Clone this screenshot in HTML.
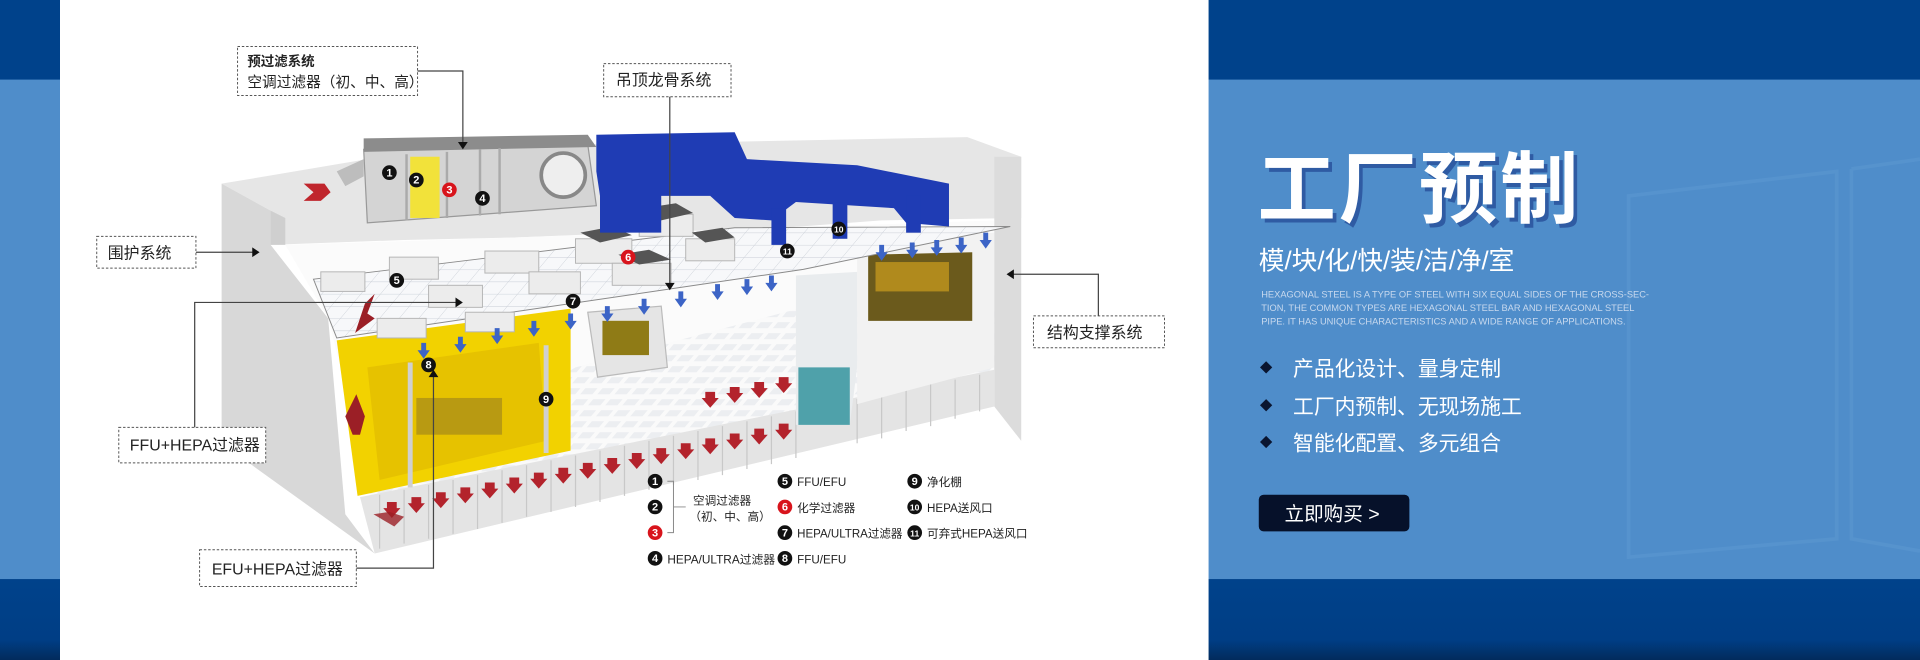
<!DOCTYPE html>
<html><head><meta charset="utf-8"><style>
html,body{margin:0;padding:0;width:1920px;height:660px;overflow:hidden;background:#00428b}
svg{display:block}
</style></head><body>
<svg width="1920" height="660" viewBox="0 0 1568 539" preserveAspectRatio="none" xmlns="http://www.w3.org/2000/svg" font-family="Liberation Sans, Noto Sans CJK SC, sans-serif">
<defs>
<linearGradient id="bot" x1="0" y1="0" x2="0" y2="1"><stop offset="0" stop-color="#00428b"/><stop offset="0.75" stop-color="#003e85"/><stop offset="1" stop-color="#022b5c"/></linearGradient>
<pattern id="grid" width="16" height="10" patternUnits="userSpaceOnUse" patternTransform="skewX(-40)"><rect width="16" height="10" fill="#f7f8fa"/><path d="M0 0H16M0 0V10" stroke="#c9ced6" stroke-width="0.8"/></pattern>
<pattern id="fgrid" width="14" height="9" patternUnits="userSpaceOnUse" patternTransform="skewX(-40)"><rect width="14" height="9" fill="#fafafa"/><rect x="2" y="2" width="10" height="5" fill="#eceef1"/></pattern>
<g id="ra"><path d="M-4 0h8v5h3l-7 8-7-8h3z" fill="#b3232c"/></g>
<g id="ba"><path d="M-2 0h4v6h3l-5 7-5-7h3z" fill="#3c64c6"/></g>
</defs>
<rect width="1568" height="539" fill="#00428b"/>
<rect y="65" width="1568" height="408" fill="#4f8dca"/>
<rect y="473" width="1568" height="66" fill="url(#bot)"/>
<g fill="none" stroke="#5c97d0" stroke-width="3" opacity="0.6">
<path d="M1330 160 L1500 140 L1500 440 L1330 455Z"/><path d="M1512 138 L1568 130 M1512 138 V440 L1568 450"/>
</g>
<rect x="49" y="0" width="938" height="539" fill="#ffffff"/>

<g>
<polygon points="181,150 300,130 480,118 790,112 834,128 834,178 720,180 640,186 520,190 420,194 330,196 221,200 221,172" fill="#e6e6e6"/>
<polygon points="181,150 221,172 221,200 268,260 282,420 306,452 181,362" fill="#d8d8d8"/>
<polygon points="221,172 233,178 233,200 221,200" fill="#cfcfcf"/>
<polygon points="233,200 420,194 640,186 812,180 812,300 306,410 268,260" fill="#fbfbfb"/>
<polygon points="300,400 470,300 660,250 812,250 812,302 306,410" fill="url(#fgrid)"/>
<polygon points="294,406 812,302 812,332 306,452" fill="#e4e4e4"/>
<g stroke="#c8c8c8" stroke-width="1">
<path d="M310 404v44M330 400v44M350 396v44M370 392v44M390 388v44M410 384v43M430 380v42M450 376v42M470 372v42M490 368v42M510 364v41M530 360v40M550 356v40M570 352v40M590 348v40M610 344v39M630 340v39M650 336v38M700 326v36M720 322v36M740 318v34M760 314v34M780 310v32M800 306v30"/>
</g>
<g>
<use href="#ra" x="320" y="410"/><use href="#ra" x="340" y="406"/><use href="#ra" x="360" y="402"/><use href="#ra" x="380" y="398"/><use href="#ra" x="400" y="394"/><use href="#ra" x="420" y="390"/><use href="#ra" x="440" y="386"/><use href="#ra" x="460" y="382"/><use href="#ra" x="480" y="378"/><use href="#ra" x="500" y="374"/><use href="#ra" x="520" y="370"/><use href="#ra" x="540" y="366"/><use href="#ra" x="560" y="362"/><use href="#ra" x="580" y="358"/><use href="#ra" x="600" y="354"/><use href="#ra" x="620" y="350"/><use href="#ra" x="640" y="346"/>
<use href="#ra" x="710" y="290"/><use href="#ra" x="725" y="288"/><use href="#ra" x="740" y="286"/><use href="#ra" x="755" y="284"/><use href="#ra" x="770" y="282"/><use href="#ra" x="785" y="280"/><use href="#ra" x="800" y="278"/>
<use href="#ra" x="580" y="320"/><use href="#ra" x="600" y="316"/><use href="#ra" x="620" y="312"/><use href="#ra" x="640" y="308"/>
</g>
<polygon points="650,225 700,222 700,300 694,347 650,347" fill="#e9ecee"/>
<polygon points="652,300 694,300 694,347 652,347" fill="#4fa1aa"/>
<polygon points="700,200 812,190 812,300 700,330" fill="#f2f2f2"/>
<polygon points="709,208 794,206 794,262 709,262" fill="#6b5a1c"/>
<rect x="715" y="214" width="60" height="24" fill="#b08a1d"/>
<polygon points="812,128 834,128 834,360 812,332" fill="#dcdcdc"/>
<!-- yellow room -->
<polygon points="275,278 466,252 466,368 292,405" fill="#f2d200"/>
<polygon points="300,300 440,280 446,360 310,392" fill="#e6c200"/>
<rect x="340" y="325" width="70" height="30" fill="#b89a12"/>
<path d="M335 296 V398 M446 282 V370" stroke="#d0d0d0" stroke-width="4"/>
<polygon points="480,255 540,250 545,300 488,308" fill="#e5e5e5" stroke="#bbb"/>
<rect x="492" y="262" width="38" height="28" fill="#8f7b16"/>
<polygon points="256,228 600,186 825,185 656,220 275,276" fill="url(#grid)" stroke="#8a8a8a" stroke-width="0.8"/>
<g fill="#ececec" stroke="#b5b5b5" stroke-width="0.8">
<rect x="262" y="222" width="36" height="16"/><rect x="318" y="210" width="40" height="18"/><rect x="396" y="205" width="44" height="18"/>
<rect x="350" y="233" width="44" height="18"/><rect x="432" y="222" width="42" height="18"/><rect x="308" y="260" width="40" height="16"/><rect x="380" y="255" width="40" height="16"/>
<rect x="470" y="195" width="46" height="20"/><rect x="522" y="175" width="44" height="18"/><rect x="560" y="195" width="40" height="18"/><rect x="500" y="215" width="48" height="18"/>
</g>
<g fill="#555">
<polygon points="474,190 500,185 516,192 490,198"/><polygon points="526,170 552,166 566,174 540,180"/><polygon points="565,190 590,186 600,194 576,198"/><polygon points="505,208 530,204 548,212 522,216"/>
</g>
<g>
<use href="#ba" x="346" y="280"/><use href="#ba" x="376" y="275"/><use href="#ba" x="406" y="268"/><use href="#ba" x="436" y="262"/><use href="#ba" x="466" y="256"/><use href="#ba" x="496" y="250"/><use href="#ba" x="526" y="244"/><use href="#ba" x="556" y="238"/><use href="#ba" x="586" y="232"/><use href="#ba" x="610" y="228"/><use href="#ba" x="630" y="225"/>
<use href="#ba" x="720" y="200"/><use href="#ba" x="745" y="198"/><use href="#ba" x="765" y="196"/><use href="#ba" x="785" y="194"/><use href="#ba" x="805" y="190"/>
</g>
<polygon points="297,122 480,118 487,168 300,182" fill="#d4d4d4" stroke="#999"/>
<polygon points="297,113 480,110 487,120 297,124" fill="#8c8c8c"/>
<rect x="335" y="128" width="24" height="50" fill="#f2e23a"/>
<path d="M332 126V180M365 124V178M392 122V176M408 121V175" stroke="#aaa" stroke-width="2"/>
<circle cx="460" cy="143" r="18" fill="#eee" stroke="#888" stroke-width="3"/>
<polygon points="275,140 297,130 297,144 282,152" fill="#bdbdbd"/>
<polygon points="248,150 265,150 270,157 262,164 248,164 256,157" fill="#c0262d"/>
<path d="M487 110 L600 108 L610 130 L700 135 L775 150 L775 185 L740 182 L730 170 L650 165 L630 180 L600 178 L580 160 L540 160 L540 190 L490 190 L490 160 L487 140Z" fill="#1f3cb4"/>
<rect x="630" y="170" width="12" height="30" fill="#1f3cb4"/><rect x="680" y="165" width="12" height="30" fill="#1f3cb4"/><rect x="740" y="160" width="12" height="30" fill="#1f3cb4"/>
<polygon points="290,272 298,248 306,240 300,256 306,260" fill="#9b1f26"/>
<polygon points="288,355 282,340 291,322 298,340 294,355" fill="#9b1f26"/>
<polygon points="305,420 322,430 330,422 318,418" fill="#9b1f26" opacity="0.8"/>
</g>

<g font-size="9" font-weight="bold" text-anchor="middle" fill="#fff">
<g fill="#111"><circle cx="318" cy="141" r="6"/><circle cx="340" cy="147" r="6"/><circle cx="394" cy="162" r="6"/><circle cx="324" cy="229" r="6"/><circle cx="468" cy="246" r="6"/><circle cx="350" cy="298" r="6"/><circle cx="446" cy="326" r="6"/><circle cx="685" cy="187" r="6"/><circle cx="643" cy="205" r="6"/></g>
<g fill="#d8141c"><circle cx="367" cy="155" r="6"/><circle cx="513" cy="210" r="6"/></g>
<text x="318" y="144">1</text><text x="340" y="150">2</text><text x="367" y="158">3</text><text x="394" y="165">4</text><text x="324" y="232">5</text><text x="513" y="213">6</text><text x="468" y="249">7</text><text x="350" y="301">8</text><text x="446" y="329">9</text><text x="685" y="190" font-size="7">10</text><text x="643" y="208" font-size="7">11</text>
</g>

<g fill="#fff" stroke="#555" stroke-width="0.8" stroke-dasharray="2,1.5">
<rect x="194" y="38" width="147" height="40"/><rect x="493" y="52" width="104" height="27"/><rect x="79" y="193" width="81" height="26"/><rect x="844" y="258" width="107" height="26"/><rect x="97" y="349" width="120" height="29"/><rect x="163" y="449" width="128" height="30"/>
</g>
<g fill="none" stroke="#444" stroke-width="1">
<path d="M341 58H378V118"/><path d="M547 79V233"/><path d="M160 206H208"/><path d="M897 258V224H826"/><path d="M159 349V247H374"/><path d="M291 464H354V306"/>
</g>
<g fill="#111">
<path d="M374 116h8l-4 6z"/><path d="M543 231h8l-4 6z"/><path d="M206 202v8l6-4z"/><path d="M828 220v8l-6-4z"/><path d="M372 243v8l6-4z"/><path d="M350 308h8l-4-6z"/>
</g>
<g fill="#222" font-size="12">
<text x="202" y="54" font-weight="bold" font-size="11">预过滤系统</text>
<text x="202" y="71">空调过滤器（初、中、高）</text>
<text x="503" y="70" font-size="13">吊顶龙骨系统</text>
<text x="88" y="211" font-size="13">围护系统</text>
<text x="855" y="276" font-size="13">结构支撑系统</text>
<text x="106" y="368" font-size="13">FFU+HEPA过滤器</text>
<text x="173" y="469" font-size="13">EFU+HEPA过滤器</text>
</g>

<g font-size="9.5" fill="#222">
<g fill="#111"><circle cx="535" cy="393" r="6"/><circle cx="535" cy="414" r="6"/><circle cx="535" cy="456" r="6"/><circle cx="641" cy="393" r="6"/><circle cx="641" cy="435" r="6"/><circle cx="641" cy="456" r="6"/><circle cx="747" cy="393" r="6"/><circle cx="747" cy="414" r="6"/><circle cx="747" cy="435" r="6"/></g>
<g fill="#d8141c"><circle cx="535" cy="435" r="6"/><circle cx="641" cy="414" r="6"/></g>
<g fill="#fff" font-weight="bold" font-size="9" text-anchor="middle"><text x="535" y="396">1</text><text x="535" y="417">2</text><text x="535" y="438">3</text><text x="535" y="459">4</text><text x="641" y="396">5</text><text x="641" y="417">6</text><text x="641" y="438">7</text><text x="641" y="459">8</text><text x="747" y="396">9</text><text x="747" y="417" font-size="7">10</text><text x="747" y="438" font-size="7">11</text></g>
<path d="M545 393h5v42h-5M550 414h10" fill="none" stroke="#888" stroke-width="0.8"/>
<text x="566" y="412">空调过滤器</text><text x="563" y="425">（初、中、高）</text>
<text x="545" y="460" textLength="88" lengthAdjust="spacingAndGlyphs">HEPA/ULTRA过滤器</text>
<text x="651" y="397">FFU/EFU</text><text x="651" y="418">化学过滤器</text><text x="651" y="439" textLength="86" lengthAdjust="spacingAndGlyphs">HEPA/ULTRA过滤器</text><text x="651" y="460">FFU/EFU</text>
<text x="757" y="397">净化棚</text><text x="757" y="418">HEPA送风口</text><text x="757" y="439">可弃式HEPA送风口</text>
</g>

<text x="1030" y="180" font-size="64" font-weight="bold" fill="#1a3a8a" opacity="0.6" letter-spacing="2">工厂预制</text>
<text x="1027" y="177" font-size="64" font-weight="bold" fill="#fff" letter-spacing="2">工厂预制</text>
<text x="1028" y="220" font-size="21" fill="#fff">模/块/化/快/装/洁/净/室</text>
<g font-size="7.6" fill="#c8d9ee">
<text x="1030" y="243">HEXAGONAL STEEL IS A TYPE OF STEEL WITH SIX EQUAL SIDES OF THE CROSS-SEC-</text>
<text x="1030" y="254">TION, THE COMMON TYPES ARE HEXAGONAL STEEL BAR AND HEXAGONAL STEEL</text>
<text x="1030" y="265">PIPE. IT HAS UNIQUE CHARACTERISTICS AND A WIDE RANGE OF APPLICATIONS.</text>
</g>
<g fill="#0a1530"><path d="M1034 295l5 5-5 5-5-5z"/><path d="M1034 326l5 5-5 5-5-5z"/><path d="M1034 356l5 5-5 5-5-5z"/></g>
<g font-size="17" fill="#fff">
<text x="1056" y="307">产品化设计、量身定制</text>
<text x="1056" y="338">工厂内预制、无现场施工</text>
<text x="1056" y="368">智能化配置、多元组合</text>
</g>
<rect x="1028" y="404" width="123" height="30" rx="4" fill="#06112a"/>
<text x="1049" y="425" font-size="16" fill="#fff">立即购买 &gt;</text>
</svg>
</body></html>
